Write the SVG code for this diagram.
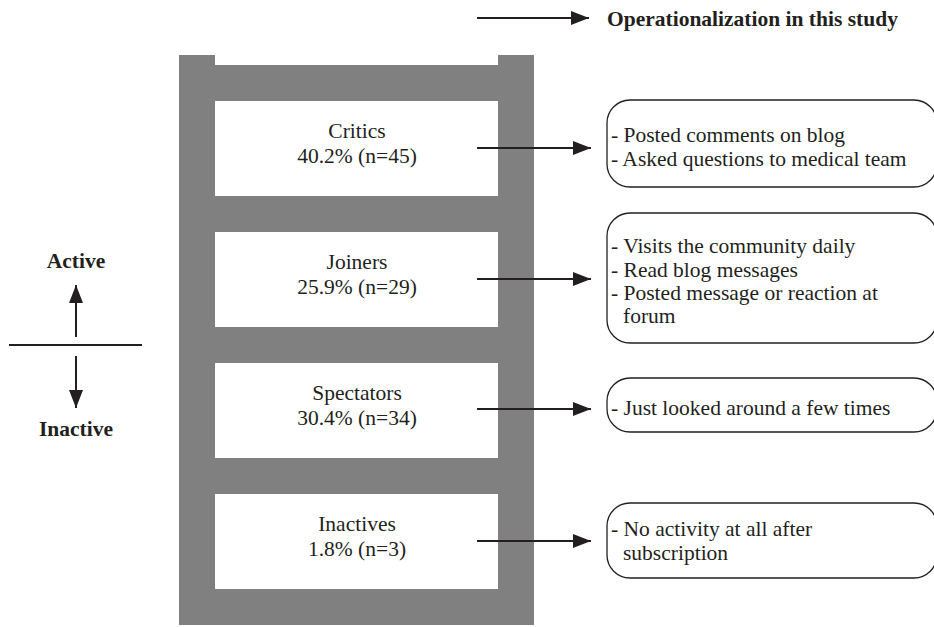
<svg xmlns="http://www.w3.org/2000/svg" width="934" height="627" viewBox="0 0 934 627">
<defs>
<style>
.rail{fill:#808080}
.t{font-family:"Liberation Serif","Times New Roman",serif;font-size:21.5px;fill:#231f20}
.c{text-anchor:middle}
.b{font-weight:bold}
.box{fill:#fff;stroke:#231f20;stroke-width:1.3}
.ln{stroke:#231f20;stroke-width:2;fill:none}
</style>
<marker id="ah" markerUnits="userSpaceOnUse" markerWidth="18" markerHeight="14" refX="18" refY="7" orient="auto">
<path d="M0,0 L18,7 L0,14 Z" fill="#231f20"/>
</marker>
</defs>
<rect width="934" height="627" fill="#fff"/>
<g id="ladder">
<rect class="rail" x="179" y="55" width="36" height="570"/>
<rect class="rail" x="498" y="55" width="36" height="570"/>
<rect class="rail" x="215" y="65" width="283" height="36"/>
<rect class="rail" x="215" y="196" width="283" height="36"/>
<rect class="rail" x="215" y="327" width="283" height="36"/>
<rect class="rail" x="215" y="458" width="283" height="36"/>
<rect class="rail" x="215" y="589" width="283" height="36"/>
</g>
<g id="critics">
<text class="t c" x="357" y="138">Critics</text>
<text class="t c" x="357" y="163">40.2% (n=45)</text>
</g>
<g id="joiners">
<text class="t c" x="357" y="269">Joiners</text>
<text class="t c" x="357" y="294">25.9% (n=29)</text>
</g>
<g id="spectators">
<text class="t c" x="357" y="400">Spectators</text>
<text class="t c" x="357" y="425">30.4% (n=34)</text>
</g>
<g id="inactives">
<text class="t c" x="357" y="531">Inactives</text>
<text class="t c" x="357" y="556">1.8% (n=3)</text>
</g>
<g id="op-critics">
<rect class="box" x="607" y="100" width="330" height="87" rx="23" ry="23"/>
<text class="t" x="611" y="142">- Posted comments on blog</text>
<text class="t" x="611" y="165.5">- Asked questions to medical team</text>
</g>
<g id="op-joiners">
<rect class="box" x="607" y="213" width="330" height="130" rx="23" ry="23"/>
<text class="t" x="611" y="253">- Visits the community daily</text>
<text class="t" x="611" y="276.5">- Read blog messages</text>
<text class="t" x="611" y="300">- Posted message or reaction at</text>
<text class="t" x="623" y="323">forum</text>
</g>
<g id="op-spectators">
<rect class="box" x="607" y="378" width="330" height="54" rx="23" ry="23"/>
<text class="t" x="611" y="415">- Just looked around a few times</text>
</g>
<g id="op-inactives">
<rect class="box" x="607" y="503" width="330" height="75" rx="23" ry="23"/>
<text class="t" x="611" y="536">- No activity at all after</text>
<text class="t" x="623" y="559.5">subscription</text>
</g>
<g id="legend">
<text class="t b" x="607" y="26">Operationalization in this study</text>
</g>
<g id="axis">
<text class="t b c" x="76" y="268">Active</text>
<text class="t b c" x="76" y="436">Inactive</text>
<line class="ln" x1="9" y1="345" x2="142" y2="345"/>
</g>
<g id="connectors">
<line class="ln" x1="477" y1="18" x2="589" y2="18" marker-end="url(#ah)"/>
<line class="ln" x1="477" y1="148" x2="591" y2="148" marker-end="url(#ah)"/>
<line class="ln" x1="477" y1="279" x2="591" y2="279" marker-end="url(#ah)"/>
<line class="ln" x1="477" y1="409" x2="591" y2="409" marker-end="url(#ah)"/>
<line class="ln" x1="477" y1="541" x2="591" y2="541" marker-end="url(#ah)"/>
<line class="ln" x1="76" y1="337" x2="76" y2="285" marker-end="url(#ah)"/>
<line class="ln" x1="76" y1="356" x2="76" y2="408" marker-end="url(#ah)"/>
</g>
</svg>
